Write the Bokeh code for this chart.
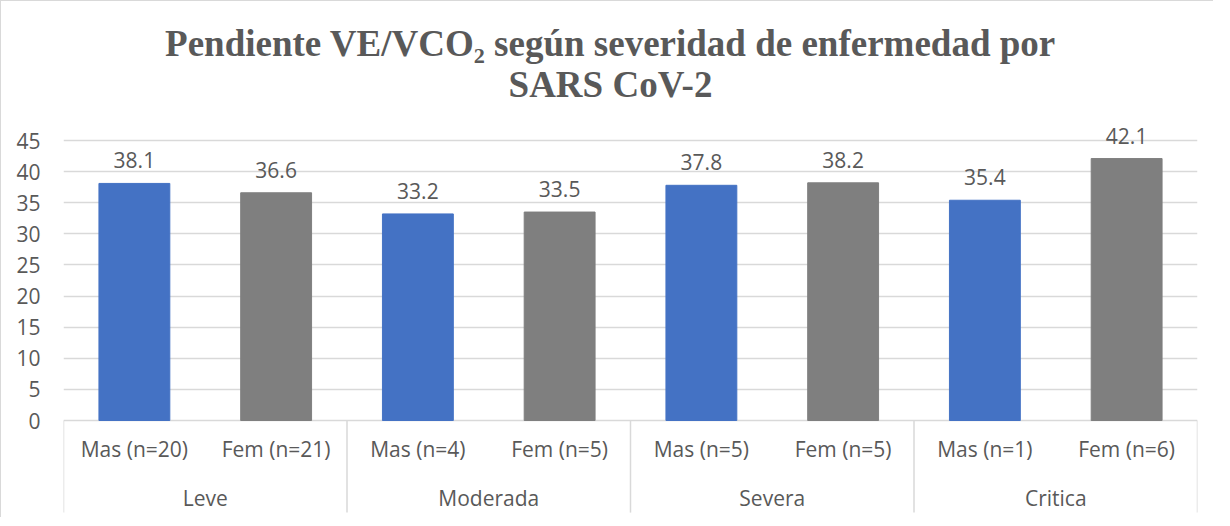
from bokeh.plotting import figure
from bokeh.models import Range1d, FixedTicker, ColumnDataSource, Label
from bokeh.core.properties import value
from bokeh.embed import file_html
from bokeh.resources import INLINE

# ---- data ----
groups = ["Leve", "Moderada", "Severa", "Critica"]
sub_labels = ["Mas (n=20)", "Fem (n=21)", "Mas (n=4)", "Fem (n=5)",
              "Mas (n=5)", "Fem (n=5)", "Mas (n=1)", "Fem (n=6)"]
values = [38.1, 36.6, 33.2, 33.5, 37.8, 38.2, 35.4, 42.1]
y_ticks = [0, 5, 10, 15, 20, 25, 30, 35, 40, 45]
title_line1 = "Pendiente VE/VCO\u2082 según severidad de enfermedad por"
title_line2 = "SARS CoV-2"

BLUE = "#4472C4"
GRAY = "#7F7F7F"
TXT = "#595959"
GRID = "#D9D9D9"

n_per_group = len(sub_labels) // len(groups)
xs = list(range(len(sub_labels)))
colors = [BLUE if lab.startswith("Mas") else GRAY for lab in sub_labels]

src = ColumnDataSource(dict(x=xs, top=values, color=colors,
                            lab=[f"{v:.1f}" for v in values], sub=sub_labels,
                            zero=[0] * len(xs)))

p = figure(width=1213, height=517, output_backend="svg", toolbar_location=None,
           x_range=Range1d(-0.5, len(xs) - 0.5), y_range=Range1d(-15.75, 67.34),
           x_axis_location=None, min_border_left=62, min_border_right=17,
           min_border_top=0, min_border_bottom=0)
p.styles = {"border-left": "1px solid #D9D9D9", "border-top": "1px solid #D9D9D9"}
p.outline_line_color = None
p.background_fill_color = "white"
p.border_fill_color = "white"

p.xgrid.grid_line_color = None
p.ygrid.ticker = FixedTicker(ticks=y_ticks)
p.ygrid.grid_line_color = GRID
p.ygrid.grid_line_width = 1.5

p.yaxis.ticker = FixedTicker(ticks=y_ticks)
p.yaxis.axis_line_color = None
p.yaxis.major_tick_line_color = None
p.yaxis.minor_tick_line_color = None
p.yaxis.major_tick_out = 0
p.yaxis.major_tick_in = 0
p.yaxis.major_label_standoff = 23
p.yaxis.major_label_text_font = "Open Sans"
p.yaxis.major_label_text_font_size = "21px"
p.yaxis.major_label_text_color = TXT

# bars
p.vbar(x="x", top="top", bottom=0, width=0.5, color="color", source=src)

# value labels
p.text(x="x", y="top", text="lab", source=src, text_align="center",
       text_baseline="alphabetic", y_offset=-23, text_font=value("Open Sans"),
       text_font_size="21px", text_color=TXT)

# sub category labels
p.text(x="x", y="zero", text="sub", source=src, text_align="center",
       text_baseline="middle", y_offset=28, text_font=value("Open Sans"),
       text_font_size="21px", text_color=TXT)

# group labels and separators
gx = [g * n_per_group + (n_per_group - 1) / 2 for g in range(len(groups))]
p.text(x=gx, y=[0] * len(groups), text=groups, text_align="center",
       text_baseline="middle", y_offset=77, text_font=value("Open Sans"),
       text_font_size="21px", text_color=TXT)
bx = [g * n_per_group - 0.5 for g in range(len(groups) + 1)]
p.segment(x0=bx, x1=bx, y0=[0] * len(bx), y1=[-14.8] * len(bx),
          line_color=GRID, line_width=1.5)

# title
p.add_layout(Label(x=3.5, y=60.6, x_offset=-20, text=title_line1,
                   text_align="center", text_baseline="alphabetic",
                   text_font="Liberation Serif", text_font_style="bold",
                   text_font_size="37px", text_color=TXT))
p.add_layout(Label(x=3.5, y=54.0, x_offset=-20, text=title_line2,
                   text_align="center", text_baseline="alphabetic",
                   text_font="Liberation Serif", text_font_style="bold",
                   text_font_size="37px", text_color=TXT))

open("out.html", "w").write(file_html(p, INLINE))
